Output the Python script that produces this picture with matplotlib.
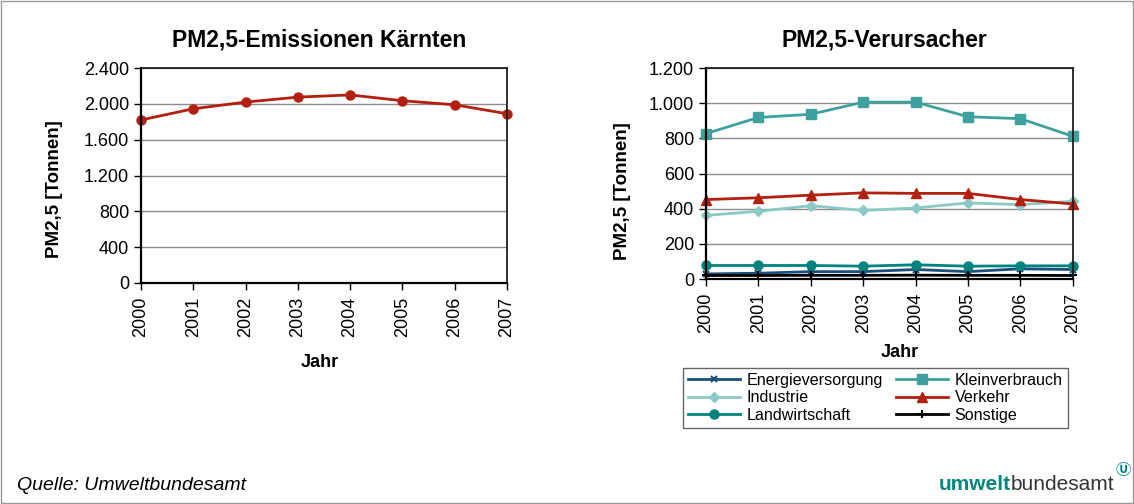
import matplotlib
matplotlib.use('Agg')
import matplotlib.pyplot as plt
from matplotlib.ticker import FuncFormatter
from matplotlib.patches import Rectangle

plt.rcParams['font.family'] = ['Liberation Sans', 'DejaVu Sans']

jahre = [2000, 2001, 2002, 2003, 2004, 2005, 2006, 2007]
gesamt = [1820, 1945, 2020, 2075, 2100, 2035, 1990, 1890]

energie = [29, 33, 42, 42, 54, 42, 58, 54]
klein = [827, 919, 937, 1006, 1006, 923, 912, 812]
industrie = [362, 385, 417, 390, 404, 433, 423, 442]
verkehr = [452, 462, 477, 490, 487, 487, 452, 427]
landw = [77, 77, 77, 73, 81, 73, 75, 75]
sonstige = [20, 20, 21, 21, 22, 21, 21, 20]

W, H = 1134, 504
fmt = FuncFormatter(lambda v, p: f'{int(v):,}'.replace(',', '.'))

fig = plt.figure(figsize=(W / 100, H / 100), dpi=100)
fig.patches.append(Rectangle((0.001, 0.002), 0.998, 0.996, transform=fig.transFigure,
                             fill=False, edgecolor='#9a9a9a', lw=1))


def style(ax, ymax, step, ylab_xy, xlab_xy):
    ax.set_xlim(jahre[0], jahre[-1])
    ax.set_ylim(0, ymax)
    ax.set_yticks(range(0, ymax + 1, step))
    ax.yaxis.set_major_formatter(fmt)
    ax.set_xticks(jahre)
    ax.set_xticklabels([str(j) for j in jahre], rotation=90)
    ax.grid(axis='y', color='#8c8c8c', lw=1)
    ax.set_axisbelow(True)
    ax.tick_params(labelsize=13, length=5, width=1, color='black')
    ax.tick_params(axis='x', pad=5)
    for s in ['left', 'bottom']:
        ax.spines[s].set_linewidth(1.6)
        ax.spines[s].set_color('black')
    for s in ['top', 'right']:
        ax.spines[s].set_linewidth(1.3)
        ax.spines[s].set_color('#202020')
    ax.set_ylabel('PM2,5 [Tonnen]', fontsize=13.5, fontweight='bold', va='center')
    ax.yaxis.set_label_coords(*ylab_xy)
    ax.set_xlabel('Jahr', fontsize=13, fontweight='bold', va='center')
    ax.xaxis.set_label_coords(*xlab_xy)


ax1 = fig.add_axes([0.1243, 0.4385, 0.3227, 0.4265])
ax1.plot(jahre, gesamt, color='#B2200F', lw=2, marker='o', ms=6.5, clip_on=False)
style(ax1, 2400, 400, (-0.235, 0.437), (0.489, -0.372))

ax2 = fig.add_axes([0.6226, 0.4464, 0.3234, 0.4186])
l_en, = ax2.plot(jahre, energie, color='#1B4F7A', lw=2, marker='x', ms=5, mew=1.5, label='Energieversorgung', clip_on=False)
l_kl, = ax2.plot(jahre, klein, color='#3FA19E', lw=2, marker='s', ms=7, label='Kleinverbrauch', clip_on=False)
l_in, = ax2.plot(jahre, industrie, color='#8BC9C5', lw=2, marker='D', ms=5, label='Industrie', clip_on=False)
l_ve, = ax2.plot(jahre, verkehr, color='#B2200F', lw=2, marker='^', ms=7, label='Verkehr', clip_on=False)
l_la, = ax2.plot(jahre, landw, color='#00837F', lw=2, marker='o', ms=6.5, label='Landwirtschaft', clip_on=False)
l_so, = ax2.plot(jahre, sonstige, color='black', lw=2, marker='+', ms=6, mew=1.5, label='Sonstige', clip_on=False)
style(ax2, 1200, 200, (-0.229, 0.417), (0.529, -0.346))

fig.text(319 / W, 1 - 40 / H, 'PM2,5-Emissionen Kärnten', fontsize=16.5,
         fontweight='bold', ha='center', va='center')
fig.text(884 / W, 1 - 40 / H, 'PM2,5-Verursacher', fontsize=16.5,
         fontweight='bold', ha='center', va='center')

# legend filled row by row like the original
order = [l_en, l_in, l_la, l_kl, l_ve, l_so]
leg = fig.legend(order, [l.get_label() for l in order], ncol=2, loc='upper left',
                 bbox_to_anchor=(683 / W, 1 - 368 / H), fontsize=11.6,
                 frameon=True, fancybox=False, edgecolor='#404040',
                 handlelength=3.25, labelspacing=0.15, columnspacing=0.8,
                 borderpad=0.3, handletextpad=0.4, borderaxespad=0)
leg.get_frame().set_linewidth(1)

fig.text(17 / W, 1 - 485 / H, 'Quelle: Umweltbundesamt', fontsize=14,
         style='italic', va='center', ha='left')
t1 = fig.text(939 / W, 1 - 485 / H, 'umwelt', fontsize=15, fontweight='bold',
              color='#00867F', va='center', ha='left')
fig.canvas.draw()
bb = t1.get_window_extent()
t2 = fig.text(bb.x1 / W, 1 - 485 / H, 'bundesamt', fontsize=15,
              color='#333333', va='center', ha='left')
bb2 = t2.get_window_extent()
fig.text(bb2.x1 / W + 0.001, 1 - 470 / H, '\u24ca', fontsize=11,
         fontweight='bold', family=['Noto Sans CJK JP', 'DejaVu Sans'],
         color='#00867F', va='center', ha='left')

fig.savefig('out.png', dpi=100)
